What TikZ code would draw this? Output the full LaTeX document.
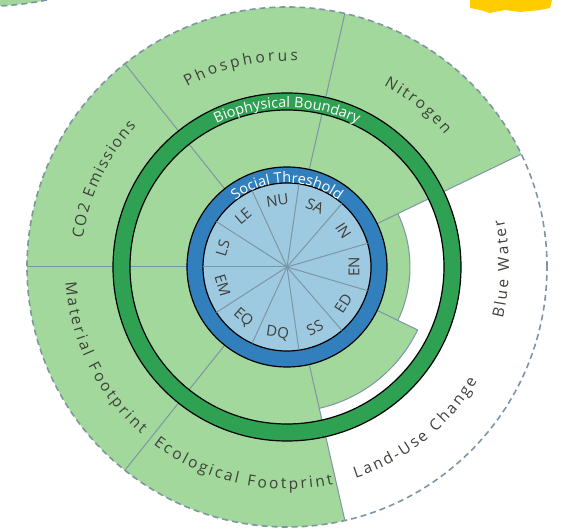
\documentclass[tikz,border=0pt]{standalone}
\usepackage{fontspec}
\setmainfont{Open Sans}
\usetikzlibrary{decorations.text}

\definecolor{leafgreen}{RGB}{162,216,155}
\definecolor{ringgreen}{RGB}{46,161,82}
\definecolor{ringblue}{RGB}{49,128,189}
\definecolor{paleblue}{RGB}{158,202,225}
\definecolor{sepgrey}{RGB}{125,150,163}
\definecolor{labelgrey}{RGB}{62,64,58}
\definecolor{sunyellow}{RGB}{255,204,0}

\begin{document}
\begin{tikzpicture}[x=1pt, y=1pt,
    sep/.style={draw=sepgrey, line width=1pt},
    rim/.style={draw=sepgrey, line width=1.6pt, dash pattern=on 6pt off 4pt},
    social/.style={font=\fontsize{15}{15}\selectfont, text=labelgrey, inner sep=0pt},
    ringtext/.style={decorate, decoration={text along path, text align=center,
        text={|\fontsize{14.5}{15}\selectfont\color{white}|#1}}},
    outertext/.style={decorate, decoration={text along path, text align={fit to path},
        text={|\fontsize{15.5}{16}\selectfont\color{labelgrey}|#1}}}]
\useasboundingbox (-287,-262) rectangle (277,267);

\fill[leafgreen] (-287,267) -- (-240,267) .. controls (-255,264) and (-270,262) .. (-287,261) -- cycle;
\draw[rim] (-240,267) .. controls (-255,264) and (-270,262) .. (-287,261);
\fill[sunyellow] (183,267) -- (265,267) -- (263,259) -- (253,257) -- (233,255) -- (218,257)
    -- (203,254) -- (193,257) -- (183,259) -- cycle;

\foreach \s/\r in {128.57/260, 77.14/260, 25.71/260, -25.71/123, -77.14/145, -128.57/260, -180/260}
    \fill[leafgreen] (\s:100) arc[start angle=\s, end angle=\s+51.43, radius=100]
        -- (\s+51.43:\r) arc[start angle=\s+51.43, end angle=\s, radius=\r] -- cycle;
\foreach \a/\r in {180/260, 128.57/260, 77.14/260, 25.71/260, -25.71/145, -77.14/260, -128.57/260}
    \draw[sep] (\a:100) -- (\a:\r);
\draw[sep] (-25.71:123) arc[start angle=-25.71, end angle=25.71, radius=123];
\draw[sep] (-77.14:145) arc[start angle=-77.14, end angle=-25.71, radius=145];
\draw[rim] (0,0) circle (260);

\filldraw[fill=ringgreen, draw=black, line width=1.2pt, even odd rule] (0,0) circle (174) (0,0) circle (157);
\filldraw[fill=ringblue, draw=black, line width=1.2pt] (0,0) circle (100);
\filldraw[fill=paleblue, draw=black, line width=1.2pt] (0,0) circle (84);
\foreach \i in {0,...,10}
    \draw[sep] (0,0) -- (180+\i*32.727:84);

\foreach \a/\r/\t in {163.64/73.64/LS, 130.91/40.91/LE, 98.18/8.18/NU, 65.45/-24.55/SA,
    32.73/-57.27/IN, 0/90/EN, -32.73/57.27/ED, -65.45/24.55/SS, -98.18/-8.18/DQ,
    -130.91/-40.91/EQ, -163.64/-73.64/EM}
    \node[social, rotate=\r] (\t) at (\a:67) {\t};

\path[ringtext=Social Threshold] (150:84) arc[start angle=150, end angle=30, radius=84];
\path[ringtext=Biophysical Boundary] (150:159.5) arc[start angle=150, end angle=30, radius=159.5];

\path[outertext=CO2 Emissions] (172:206) arc[start angle=172, end angle=137, radius=206];
\path[outertext=Phosphorus] (119:206) arc[start angle=119, end angle=87, radius=206];
\path[outertext=Nitrogen] (62:206) arc[start angle=62, end angle=40, radius=206];
\path[outertext=Blue Water] (-13.5:222) arc[start angle=-13.5, end angle=12.5, radius=222];
\path[outertext=Land-Use Change] (-72:222) arc[start angle=-72, end angle=-31, radius=222];
\path[outertext=Ecological Footprint] (-127:222) arc[start angle=-127, end angle=-78, radius=222];
\path[outertext=Material Footprint] (-176:222) arc[start angle=-176, end angle=-131, radius=222];
\end{tikzpicture}
\end{document}
